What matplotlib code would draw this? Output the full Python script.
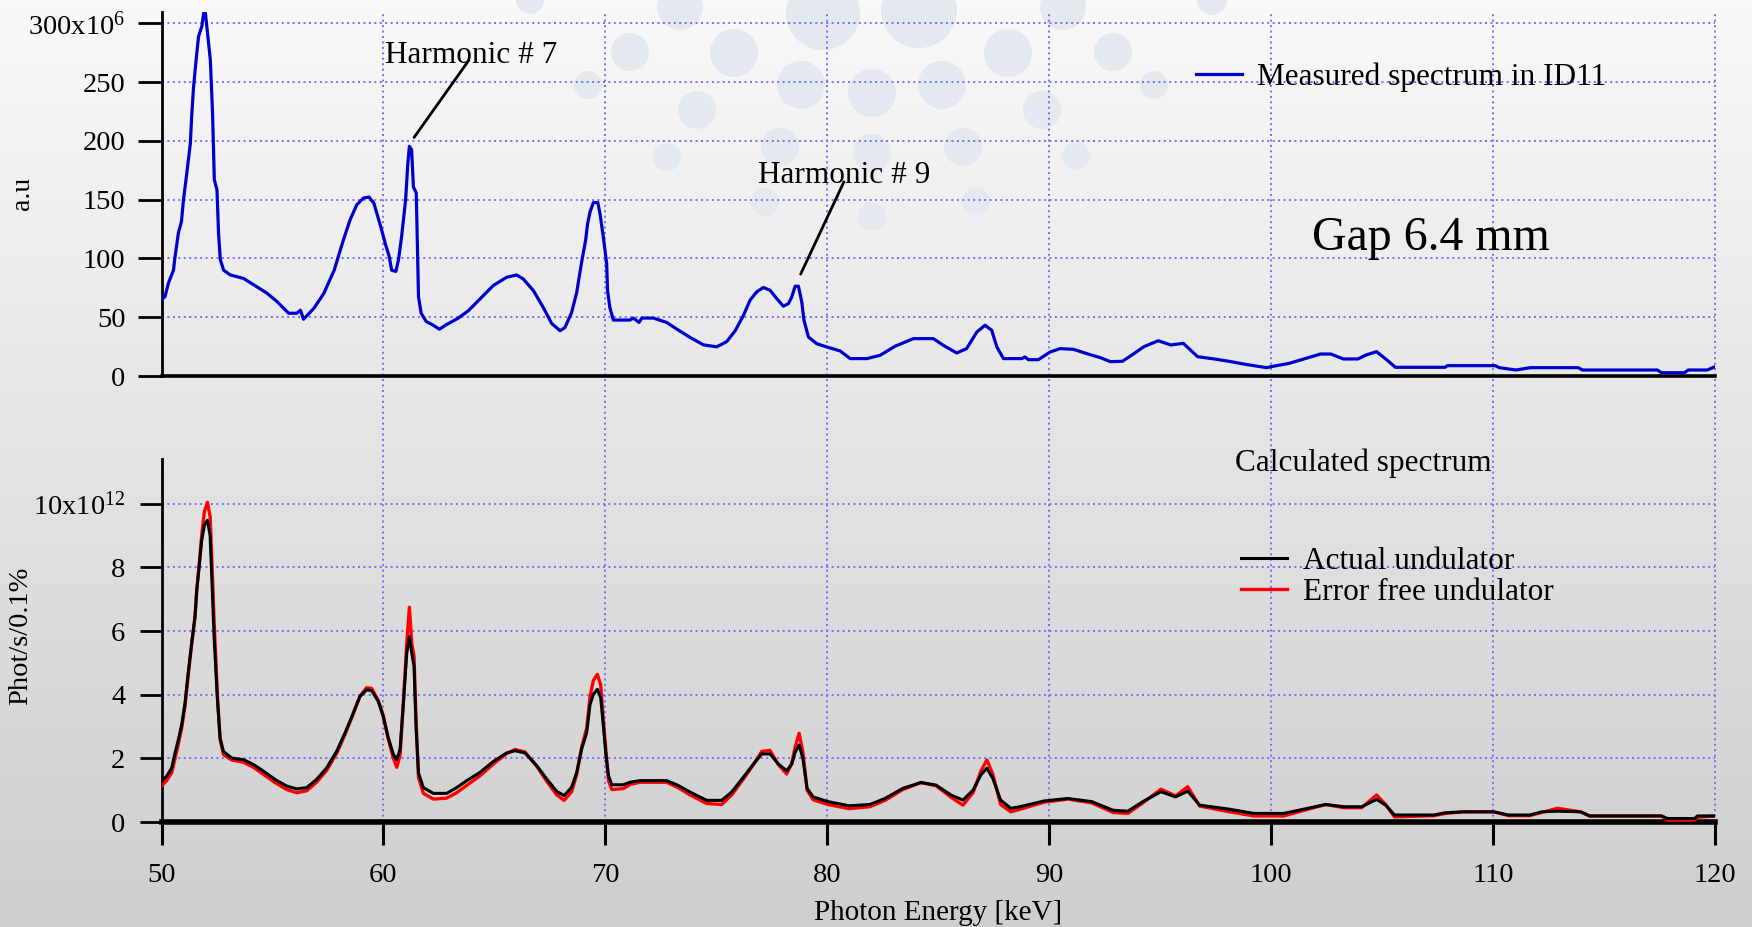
import numpy as np
import matplotlib
matplotlib.use("Agg")
import matplotlib.pyplot as plt
import matplotlib.transforms as mtransforms
from matplotlib.colors import LinearSegmentedColormap
from matplotlib.lines import Line2D
from matplotlib.patches import Circle

plt.rcParams['font.family'] = ['Liberation Serif', 'DejaVu Serif']
plt.rcParams['mathtext.fontset'] = 'custom'
plt.rcParams['mathtext.rm'] = 'Liberation Serif'
plt.rcParams['mathtext.it'] = 'Liberation Serif:italic'
plt.rcParams['mathtext.bf'] = 'Liberation Serif:bold'

# ---------------- data ----------------
# Measured spectrum (intensity in units of 1e6 a.u.)
E_meas = [50.0, 50.16, 50.31, 50.54, 50.6, 50.76, 50.9, 50.99, 51.14, 51.3, 51.36, 51.44,
          51.56, 51.67, 51.82, 51.9, 51.97, 52.04, 52.2, 52.3, 52.38, 52.5, 52.57, 52.65,
          52.8, 53.1, 53.7, 54.15, 54.75, 55.2, 55.73, 56.1, 56.26, 56.4, 56.87, 57.32,
          57.78, 58.2, 58.5, 58.8, 59.1, 59.35, 59.57, 59.88, 60.1, 60.26, 60.37, 60.56,
          60.68, 60.82, 61.0, 61.1, 61.17, 61.27, 61.35, 61.48, 61.52, 61.58, 61.7, 61.93,
          62.22, 62.52, 62.82, 63.35, 63.83, 64.35, 64.95, 65.55, 66.0, 66.3, 66.76, 67.2,
          67.58, 67.96, 68.18, 68.48, 68.71, 68.93, 69.11, 69.2, 69.31, 69.46, 69.66, 69.76,
          69.91, 70.06, 70.1, 70.2, 70.36, 71.11, 71.26, 71.52, 71.64, 72.16, 72.76, 73.22,
          73.82, 74.42, 75.02, 75.47, 75.85, 76.22, 76.52, 76.82, 77.12, 77.42, 77.72, 78.02,
          78.25, 78.4, 78.55, 78.7, 78.85, 78.95, 79.15, 79.52, 79.98, 80.58, 81.03, 81.78,
          82.38, 83.05, 83.88, 84.78, 85.23, 85.83, 86.28, 86.74, 87.11, 87.41, 87.64, 87.94,
          88.76, 88.91, 89.06, 89.51, 90.04, 90.49, 91.09, 91.7, 92.3, 92.76, 93.3, 93.79,
          94.26, 94.91, 95.48, 96.04, 96.69, 97.44, 98.19, 98.85, 99.79, 100.16, 100.82,
          101.47, 102.22, 102.69, 103.25, 103.91, 104.28, 104.75, 105.22, 105.6, 107.84,
          107.94, 110.09, 110.28, 111.03, 111.68, 113.84, 114.03, 117.4, 117.59, 118.62,
          118.8, 119.65, 120.0]
I_meas = [64.8, 67.6, 79, 90, 100, 121.6, 131.5, 150, 172.7, 198, 221, 245,
          269, 289, 297.7, 309, 310.5, 297.7, 269, 224, 167, 158.5, 121.6, 99,
          90, 86, 83, 77.6, 70.5, 63.4, 53.4, 53.4, 56, 48.3, 57.7, 70.5,
          90, 116, 133, 145.7, 151.4, 152.3, 147, 127, 111.6, 101.7, 90, 89,
          99, 118.8, 150, 181, 195.5, 192.6, 161, 155.7, 121.6, 67.6, 53.4, 46.3,
          43.5, 39.8, 43.5, 49, 55.6, 65.5, 77, 84, 86, 82.6, 72.6, 58.4,
          44.7, 38.5, 41.3, 54, 71.2, 96.9, 115.4, 129.6, 139.6, 147.6, 147.6, 138,
          118, 95.4, 72.6, 58.4, 47.6, 47.6, 49.3, 45.6, 49.3, 49.3, 45.6, 39.9,
          32.8, 26.5, 24.8, 29.3, 38.5, 51.5, 64.5, 71.6, 75.3, 73, 65.9, 59.4,
          61.6, 67.3, 76.4, 76.4, 63, 47.4, 33.2, 27.5, 24.7, 21.3, 14.8, 14.8,
          17.6, 25.3, 31.8, 31.8, 26.1, 19.6, 23.3, 37.5, 43.2, 38.9, 24.7, 14.8,
          14.8, 16.2, 13.9, 13.9, 20.4, 23.3, 22.7, 19, 15.6, 12.2, 12.5, 18.7,
          24.9, 30, 26.4, 27.8, 16.4, 14.5, 12.2, 9.9, 7.1, 8.5, 10.8,
          14.5, 18.7, 18.7, 14.5, 14.5, 17.9, 20.7, 13.6, 7.4, 7.4,
          8.8, 8.8, 7.1, 5.1, 7.1, 7.1, 5.1, 5.1, 2.8, 2.8,
          5.1, 5.1, 7.9]

# Calculated spectra (photons/s/0.1% bw in units of 1e12)
E_calc = [50.0, 50.23, 50.46, 50.61, 50.76, 50.91, 51.06, 51.21, 51.36, 51.51, 51.59, 51.71,
          51.81, 51.93, 52.07, 52.19, 52.26, 52.37, 52.52, 52.64, 52.79, 53.16, 53.69, 54.14,
          54.59, 55.11, 55.64, 56.09, 56.54, 56.99, 57.44, 57.89, 58.27, 58.64, 58.94, 59.24,
          59.47, 59.77, 59.99, 60.22, 60.45, 60.6, 60.75, 60.9, 61.05, 61.17, 61.28, 61.38,
          61.47, 61.58, 61.8, 62.25, 62.85, 63.3, 63.75, 64.35, 64.95, 65.55, 65.93, 66.38,
          66.91, 67.36, 67.81, 68.14, 68.48, 68.71, 68.93, 69.16, 69.31, 69.46, 69.64, 69.79,
          69.91, 70.03, 70.14, 70.29, 70.81, 71.11, 71.56, 72.76, 73.22, 73.82, 74.57, 75.24,
          75.69, 76.22, 76.67, 77.05, 77.42, 77.8, 78.17, 78.4, 78.55, 78.73, 78.9, 79.09,
          79.36, 80.03, 80.98, 81.92, 82.6, 83.41, 84.22, 84.9, 85.57, 86.11, 86.57, 86.92,
          87.19, 87.46, 87.81, 88.27, 88.68, 89.76, 90.84, 91.92, 92.87, 93.54, 94.22, 95.03,
          95.7, 96.24, 96.78, 98.14, 99.22, 100.57, 101.65, 102.46, 103.27, 104.08, 104.75,
          105.16, 105.56, 107.32, 107.86, 108.67, 110.02, 110.7, 111.65, 112.19, 112.9,
          113.94, 114.35, 117.59, 117.86, 119.08, 119.21, 120.0]
I_actual = [1.28, 1.44, 1.70, 2.17, 2.59, 3.06, 3.74, 4.73, 5.62, 6.45, 7.29, 8.12,
            8.85, 9.32, 9.48, 9.01, 7.81, 5.82, 3.84, 2.64, 2.22, 2.01, 1.96, 1.81,
            1.60, 1.34, 1.13, 1.04, 1.08, 1.34, 1.70, 2.22, 2.80, 3.42, 3.95, 4.15,
            4.13, 3.79, 3.32, 2.64, 2.12, 1.96, 2.28, 3.74, 5.30, 5.82, 5.30, 4.89,
            3.01, 1.54, 1.08, 0.90, 0.90, 1.08, 1.30, 1.56, 1.90, 2.17, 2.24, 2.17,
            1.77, 1.35, 0.96, 0.83, 1.09, 1.56, 2.29, 2.81, 3.70, 4.01, 4.17, 3.91,
            3.02, 2.08, 1.46, 1.17, 1.17, 1.25, 1.30, 1.30, 1.17, 0.94, 0.68, 0.68,
            0.94, 1.41, 1.82, 2.14, 2.14, 1.82, 1.61, 1.82, 2.19, 2.42, 2.00, 1.06,
            0.79, 0.64, 0.51, 0.55, 0.74, 1.06, 1.24, 1.16, 0.85, 0.69, 1.00, 1.48,
            1.69, 1.37, 0.69, 0.43, 0.48, 0.66, 0.74, 0.64, 0.37, 0.34, 0.64, 0.95,
            0.79, 0.97, 0.53, 0.40, 0.27, 0.27, 0.43, 0.55, 0.48, 0.48, 0.71,
            0.53, 0.22, 0.22, 0.29, 0.32, 0.32, 0.22, 0.22, 0.32, 0.34,
            0.32, 0.19, 0.19, 0.11, 0.11, 0.19, 0.19]
I_errfree = [1.13, 1.30, 1.55, 2.00, 2.45, 2.95, 3.65, 4.65, 5.60, 6.45, 7.30, 8.20,
             9.00, 9.75, 10.05, 9.60, 8.40, 6.30, 4.00, 2.60, 2.12, 1.95, 1.88, 1.72,
             1.50, 1.24, 1.02, 0.92, 0.98, 1.25, 1.62, 2.15, 2.75, 3.40, 3.95, 4.22,
             4.20, 3.82, 3.35, 2.60, 2.00, 1.72, 2.10, 3.80, 5.60, 6.75, 5.60, 5.20,
             3.20, 1.40, 0.90, 0.72, 0.75, 0.92, 1.15, 1.45, 1.82, 2.15, 2.28, 2.20,
             1.75, 1.28, 0.85, 0.68, 0.95, 1.50, 2.35, 2.95, 3.95, 4.45, 4.64, 4.30,
             3.20, 2.20, 1.30, 1.02, 1.05, 1.18, 1.25, 1.25, 1.10, 0.85, 0.58, 0.55,
             0.85, 1.35, 1.80, 2.22, 2.25, 1.80, 1.51, 1.85, 2.35, 2.79, 2.20, 1.00,
             0.70, 0.55, 0.42, 0.48, 0.68, 1.02, 1.24, 1.14, 0.78, 0.53, 0.92, 1.60,
             1.95, 1.50, 0.55, 0.32, 0.40, 0.62, 0.72, 0.60, 0.30, 0.27, 0.60, 1.03,
             0.82, 1.11, 0.50, 0.32, 0.19, 0.19, 0.40, 0.55, 0.45, 0.45, 0.85,
             0.55, 0.16, 0.20, 0.27, 0.32, 0.32, 0.20, 0.20, 0.30, 0.43,
             0.32, 0.19, 0.19, 0.06, 0.06, 0.15, 0.19]

X_TICKS = [50, 60, 70, 80, 90, 100, 110, 120]
TOP_TICKS = [0, 50, 100, 150, 200, 250, 300]
TOP_EXP = 6
BOT_TICKS = [0, 2, 4, 6, 8, 10]
BOT_EXP = 12

# ---------------- figure ----------------
W, H, DPI = 1752, 927, 100
fig = plt.figure(figsize=(W / DPI, H / DPI), dpi=DPI)

# slide background: vertical grey gradient with pale dots
bg = fig.add_axes([0, 0, 1, 1], zorder=-10)
bg.imshow(np.linspace(0, 1, 256)[:, None], aspect='auto', origin='upper',
          cmap=LinearSegmentedColormap.from_list('bg', ['#f9f9f9', '#cecece']),
          extent=[0, 1, 0, 1])
bg.set_axis_off()
dots = [(680, 7, 23), (823, 13, 37), (919, 10, 38), (1063, 7, 23), (530, 0, 14), (1212, 0, 15),
        (630, 52, 19), (734, 53, 24), (1008, 53, 24), (1113, 52, 19),
        (588, 85, 14), (801, 85, 24), (872, 93, 24), (942, 85, 24), (1154, 85, 14),
        (697, 110, 19), (1042, 110, 19), (780, 147, 19), (963, 147, 19),
        (667, 157, 14), (872, 153, 19), (1076, 156, 14),
        (765, 202, 14), (872, 217, 14), (976, 202, 14)]
for cx, cy, r in dots:
    bg.add_patch(Circle((cx / DPI, (H - cy) / DPI), r / DPI, transform=fig.dpi_scale_trans,
                        facecolor='#e4e8ef', edgecolor='none'))

L, R = 161.5 / W, 1715 / W
ax_top = fig.add_axes([L, 1 - 376 / H, R - L, (376 - 11.7) / H])
ax_bot = fig.add_axes([L, 1 - 822 / H, R - L, (822 - 459.3) / H])
for ax in (ax_top, ax_bot):
    ax.set_facecolor('none')
    ax.spines['top'].set_visible(False)
    ax.spines['right'].set_visible(False)
    ax.spines['left'].set_linewidth(2.0)
    ax.set_xlim(50, 120)

GRID = dict(color='#6f6fff', lw=1.4, ls=(0, (1, 1.8)))

# ---- top panel: measured ----
ax_top.plot(E_meas, I_meas, color='#0000cc', lw=2.3, zorder=3,
            label='Measured spectrum in ID11')
ax_top.set_ylim(0, 310)
ax_top.spines['bottom'].set_linewidth(2.6)
ax_top.set_yticks(TOP_TICKS)
ax_top.set_yticklabels([f'{v}x10$^{{{TOP_EXP}}}$' if v == TOP_TICKS[-1] else f'{v}'
                        for v in TOP_TICKS])
ax_top.tick_params(axis='y', direction='out', length=17, width=2.0, pad=9, labelsize=20.5)
ax_top.tick_params(axis='x', bottom=False, labelbottom=False)
for v in TOP_TICKS[1:]:
    ax_top.axhline(v, zorder=1, **GRID)

ax_top.legend(loc='center left', bbox_to_anchor=(0.6657, 0.82), frameon=False,
              fontsize=22.5, handlelength=1.47, handletextpad=0.5, borderpad=0,
              borderaxespad=0)
ax_top.text(0.7406, 0.3459, 'Gap 6.4 mm', transform=ax_top.transAxes,
            fontsize=34.5, va='baseline', ha='left')

ANNOT = dict(arrowstyle='-', color='black', lw=2.0, shrinkA=0, shrinkB=0)
ax_top.annotate('', xy=(61.38, 203), xytext=(63.85, 268.7), arrowprops=ANNOT)
ax_top.text(60.05, 266, 'Harmonic # 7', fontsize=22.5, va='baseline', ha='left')
ax_top.annotate('', xy=(78.8, 86.7), xytext=(80.75, 165.2), arrowprops=ANNOT)
ax_top.text(76.9, 164.4, 'Harmonic # 9', fontsize=22.5, va='baseline', ha='left')
ax_top.text(-0.0892, 0.502, 'a.u', transform=ax_top.transAxes, rotation=90,
            ha='center', va='center', fontsize=20)

# ---- bottom panel: calculated ----
l_red, = ax_bot.plot(E_calc, I_errfree, color='#ff0000', lw=2.4, zorder=3)
l_blk, = ax_bot.plot(E_calc, I_actual, color='black', lw=2.2, zorder=4)
ax_bot.set_ylim(0, 11.4)
ax_bot.spines['bottom'].set_linewidth(4.0)
ax_bot.set_yticks(BOT_TICKS)
ax_bot.set_yticklabels([f'{v}x10$^{{{BOT_EXP}}}$' if v == BOT_TICKS[-1] else f'{v}'
                        for v in BOT_TICKS])
ax_bot.set_xticks(X_TICKS)
ax_bot.set_xticklabels([str(v) for v in X_TICKS])
ax_bot.tick_params(axis='y', direction='out', length=16, width=2.0, pad=10, labelsize=20.5)
ax_bot.tick_params(axis='x', direction='out', length=16.5, width=2.2, pad=13, labelsize=20.5)
for v in BOT_TICKS[1:]:
    ax_bot.axhline(v, zorder=1, **GRID)

ax_bot.legend([l_blk, l_red], ['Actual undulator', 'Error free undulator'],
              loc='center left', bbox_to_anchor=(0.695, 0.675), frameon=False,
              fontsize=22.5, handlelength=1.47, handletextpad=0.5, borderpad=0,
              borderaxespad=0, labelspacing=0.05)
ax_bot.text(0.691, 0.9686, 'Calculated spectrum', transform=ax_bot.transAxes,
            fontsize=22.5, va='baseline', ha='left')
ax_bot.text(-0.0904, 0.513, 'Phot/s/0.1%', transform=ax_bot.transAxes, rotation=90,
            ha='center', va='center', fontsize=20.5)
fig.text((L + R) / 2, 1 - 920 / H, 'Photon Energy [keV]', ha='center', va='baseline',
         fontsize=21)

# vertical grid lines run through both panels
vtrans = mtransforms.blended_transform_factory(ax_bot.transData, fig.transFigure)
y_lo = ax_bot.get_position().y0
y_hi = ax_top.get_position().y1
for x in X_TICKS[1:]:
    fig.add_artist(Line2D([x, x], [y_lo, y_hi], transform=vtrans, zorder=-1, **GRID))

fig.savefig('out.png', dpi=DPI)
